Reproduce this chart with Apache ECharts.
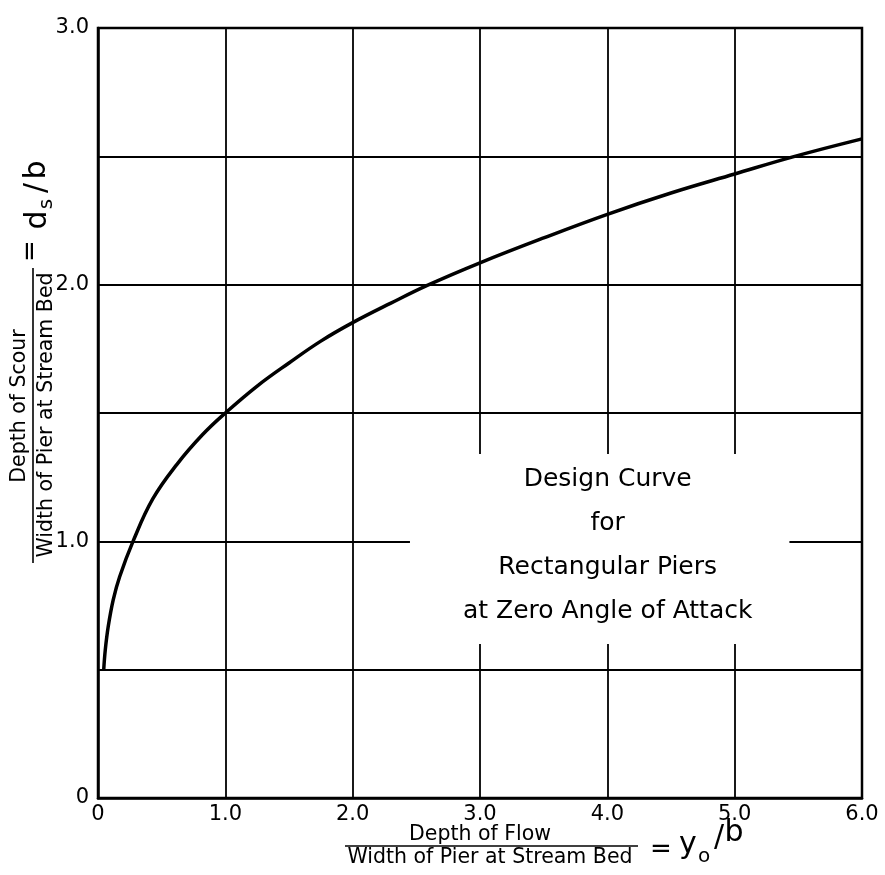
<!DOCTYPE html>
<html>
<head>
<meta charset="utf-8">
<script src="https://cdn.jsdelivr.net/npm/echarts@6/dist/echarts.min.js"></script>
<style>
html,body{margin:0;padding:0;background:#fff;}
#chart{width:885px;height:875px;}
</style>
</head>
<body>
<div id="chart"></div>
<script>
// ---- data ----
const flowDepth = [0.045, 0.057, 0.080, 0.119, 0.170, 0.275, 0.43, 0.62, 0.82, 1.0, 1.25, 1.5, 1.75, 2.0, 2.3, 2.59, 3.0, 3.5, 4.0, 4.5, 5.0, 5.45, 6.0];
const scourDepth = [0.50, 0.576, 0.667, 0.771, 0.862, 1.0, 1.165, 1.30, 1.415, 1.5, 1.605, 1.695, 1.78, 1.852, 1.928, 1.998, 2.085, 2.182, 2.274, 2.357, 2.431, 2.497, 2.568];
const xTickLabels = ['0', '1.0', '2.0', '3.0', '4.0', '5.0', '6.0'];
const yTickLabels = {0: '0', 1: '1.0', 2: '2.0', 3: '3.0'};
const noteLines = ['Design Curve', 'for', 'Rectangular Piers', 'at Zero Angle of Attack'];
const noteBox = [[2.45, 1.34], [5.43, 0.6]];

const FONT = '"DejaVu Sans", "Liberation Sans", sans-serif';
const curve = flowDepth.map((x, i) => [x, scourDepth[i]]);

function txt(x, y, s, size, rot) {
  return {
    type: 'text', x: x, y: y, rotation: rot || 0, silent: true, z: 100,
    style: {
      text: s, fill: '#000', font: size + 'px ' + FONT,
      align: 'center', verticalAlign: 'middle',
      textAlign: 'center', textVerticalAlign: 'middle'
    }
  };
}
function ln(x1, y1, x2, y2, w) {
  return {type: 'line', silent: true, z: 100, shape: {x1, y1, x2, y2}, style: {stroke: '#000', lineWidth: w || 1.5}};
}
const R = Math.PI / 2;

const chart = echarts.init(document.getElementById('chart'), null, {renderer: 'canvas'});
chart.setOption({
  animation: false,
  backgroundColor: '#fff',
  grid: {left: 98, right: 23, top: 28, bottom: 77, show: true, borderColor: '#000', borderWidth: 2.5, backgroundColor: 'transparent'},
  xAxis: {
    type: 'value', min: 0, max: 6, interval: 1,
    axisLine: {show: true, onZero: false, lineStyle: {color: '#000', width: 2.5}},
    axisTick: {show: false},
    splitLine: {show: true, lineStyle: {color: '#000', width: 1.8}},
    axisLabel: {color: '#000', fontSize: 21, fontFamily: FONT, margin: 6,
      formatter: v => xTickLabels[Math.round(v)] || ''}
  },
  yAxis: {
    type: 'value', min: 0, max: 3, interval: 0.5,
    axisLine: {show: true, onZero: false, lineStyle: {color: '#000', width: 2.5}},
    axisTick: {show: false},
    splitLine: {show: true, lineStyle: {color: '#000', width: 1.8}},
    axisLabel: {color: '#000', fontSize: 21, fontFamily: FONT, margin: 9,
      formatter: v => (Math.abs(v - Math.round(v)) < 1e-6 ? (yTickLabels[Math.round(v)] || '') : '')}
  },
  series: [{
    type: 'line', data: curve, symbol: 'none', smooth: 0.4,
    lineStyle: {color: '#000', width: 3.5}, silent: true, z: 5,
    markArea: {
      silent: true,
      itemStyle: {color: '#fff', opacity: 1},
      label: {show: true, position: 'inside', color: '#000', fontSize: 25, lineHeight: 44,
        fontFamily: FONT, offset: [8, -4], formatter: () => noteLines.join('\n')},
      emphasis: {disabled: true},
      data: [[{xAxis: noteBox[0][0], yAxis: noteBox[0][1]}, {xAxis: noteBox[1][0], yAxis: noteBox[1][1]}]]
    }
  }],
  graphic: [
    // y-axis title (rotated)
    txt(20, 406, 'Depth of Scour', 20.5, R),
    ln(33, 268, 33, 563, 1.6),
    txt(47, 415, 'Width of Pier at Stream Bed', 20.5, R),
    txt(31, 251, '=', 26, R),
    txt(38, 220, 'd', 30, R),
    txt(47, 204, 's', 20, R),
    txt(37, 188, '/', 30, R),
    txt(37, 170, 'b', 30, R),
    // x-axis title
    txt(480, 835, 'Depth of Flow', 20.5, 0),
    ln(345, 846, 638, 846, 1.6),
    txt(490, 858, 'Width of Pier at Stream Bed', 20.5, 0),
    txt(661, 850, '=', 26, 0),
    txt(688, 845, 'y', 30, 0),
    txt(704, 857, 'o', 20, 0),
    txt(719, 838, '/', 30, 0),
    txt(734, 833, 'b', 30, 0)
  ]
});
</script>
</body>
</html>
